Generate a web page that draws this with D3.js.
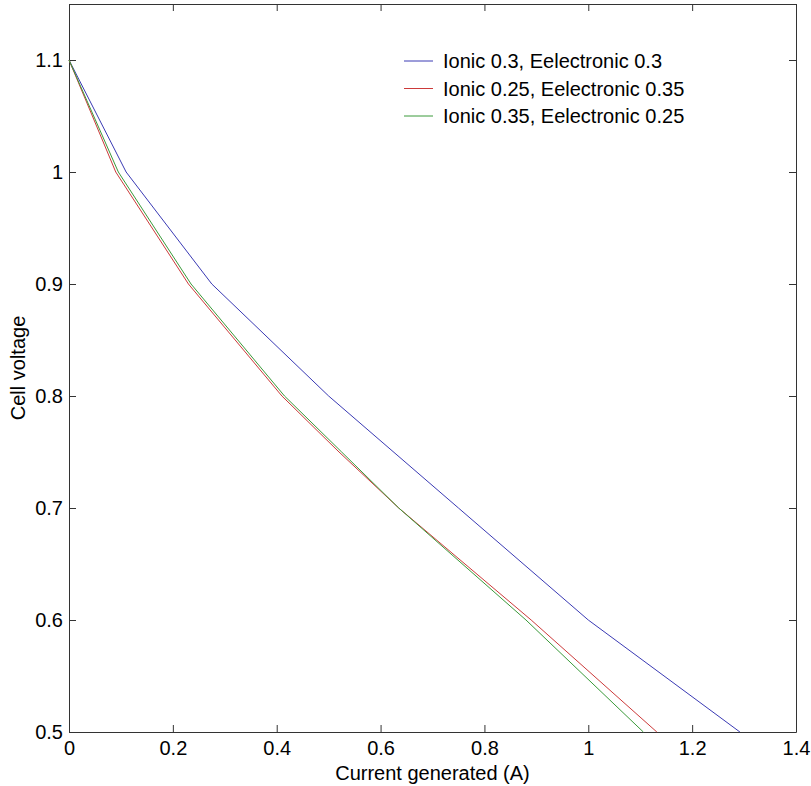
<!DOCTYPE html>
<html>
<head>
<meta charset="utf-8">
<script src="https://cdn.jsdelivr.net/npm/d3@7"></script>
<style>
  body { margin: 0; background: #fff; }
  text { font-family: "Liberation Sans", Arial, sans-serif; fill: #000; }
</style>
</head>
<body>
<div class="chart"></div>
<script>
// series data: [current, voltage]
var seriesNames = ["Ionic 0.3, Eelectronic 0.3", "Ionic 0.25, Eelectronic 0.35", "Ionic 0.35, Eelectronic 0.25"];
var seriesColors = ["#3a3ab4", "#cc3a3a", "#3a9a3a"];
var blueData = [[0, 1.1], [0.11, 1.0], [0.275, 0.9], [0.5, 0.8], [0.75, 0.7], [1.0, 0.6], [1.292, 0.5]];
var redData = [[0, 1.1], [0.09, 1.0], [0.23, 0.9], [0.41, 0.8], [0.52, 0.75], [0.635, 0.7], [0.89, 0.6], [1.132, 0.5]];
var greenData = [[0, 1.1], [0.095, 1.0], [0.235, 0.9], [0.415, 0.8], [0.525, 0.75], [0.635, 0.7], [0.88, 0.6], [1.106, 0.5]];
var xTicks = [0, 0.2, 0.4, 0.6, 0.8, 1, 1.2, 1.4];
var yTicks = [0.5, 0.6, 0.7, 0.8, 0.9, 1, 1.1];

var width = 811, height = 786;
var margin = {left: 69, right: 15, top: 4, bottom: 54};
var fontSize = 20;

var svg = d3.select('.chart')
    .append('svg')
    .attr('width', width)
    .attr('height', height);

var x = d3.scaleLinear().domain([0, 1.4]).range([margin.left, width - margin.right]);
var y = d3.scaleLinear().domain([0.5, 1.15]).range([height - margin.bottom, margin.top]);

var fmt = function(d){ return String(d); };
var tickLen = 7;

// axes, MATLAB style box with inward ticks
var bottomAxis = svg.append('g')
    .attr('transform', 'translate(0,' + y(0.5) + ')')
    .call(d3.axisBottom(x).tickValues(xTicks).tickFormat(fmt).tickSizeInner(-tickLen).tickSizeOuter(0).tickPadding(9));
var leftAxis = svg.append('g')
    .attr('transform', 'translate(' + x(0) + ',0)')
    .call(d3.axisLeft(y).tickValues(yTicks).tickFormat(fmt).tickSizeInner(-tickLen).tickSizeOuter(0).tickPadding(6));
var topAxis = svg.append('g')
    .attr('transform', 'translate(0,' + y(1.15) + ')')
    .call(d3.axisTop(x).tickValues(xTicks).tickFormat('').tickSizeInner(-tickLen).tickSizeOuter(0));
var rightAxis = svg.append('g')
    .attr('transform', 'translate(' + x(1.4) + ',0)')
    .call(d3.axisRight(y).tickValues(yTicks).tickFormat('').tickSizeInner(-tickLen).tickSizeOuter(0));

[bottomAxis, leftAxis, topAxis, rightAxis].forEach(function(a){
    a.select('.domain').attr('stroke', '#333');
    a.selectAll('.tick line').attr('stroke', '#333');
    a.selectAll('text').attr('font-size', fontSize).attr('font-family', '"Liberation Sans", Arial, sans-serif');
});

// lines
var line = d3.line()
    .x(function(d){ return x(d[0]); })
    .y(function(d){ return y(d[1]); });

var allData = [blueData, redData, greenData];
svg.append('g')
    .attr('class', 'lines')
    .selectAll('path')
    .data(allData)
    .enter()
        .append('path')
        .attr('d', line)
        .attr('fill', 'none')
        .attr('stroke', function(d, i){ return seriesColors[i]; })
        .attr('stroke-width', 1);

// legend
var legend = svg.append('g').attr('class', 'legend');
var rows = legend.selectAll('g')
    .data(seriesNames)
    .enter()
        .append('g')
        .attr('transform', function(d, i){ return 'translate(404,' + (61 + i * 27.5) + ')'; });
rows.append('line')
    .attr('x1', 0).attr('x2', 29)
    .attr('stroke', function(d, i){ return seriesColors[i]; })
    .attr('stroke-width', 1);
rows.append('text')
    .attr('x', 39)
    .attr('dy', '0.35em')
    .attr('font-size', fontSize)
    .text(function(d){ return d; });

// axis titles
svg.append('text')
    .attr('x', (x(0) + x(1.4)) / 2)
    .attr('y', 780)
    .attr('text-anchor', 'middle')
    .attr('font-size', fontSize)
    .text('Current generated (A)');
svg.append('text')
    .attr('transform', 'translate(25,' + ((y(0.5) + y(1.15)) / 2) + ') rotate(-90)')
    .attr('text-anchor', 'middle')
    .attr('font-size', fontSize)
    .text('Cell voltage');
</script>
</body>
</html>
